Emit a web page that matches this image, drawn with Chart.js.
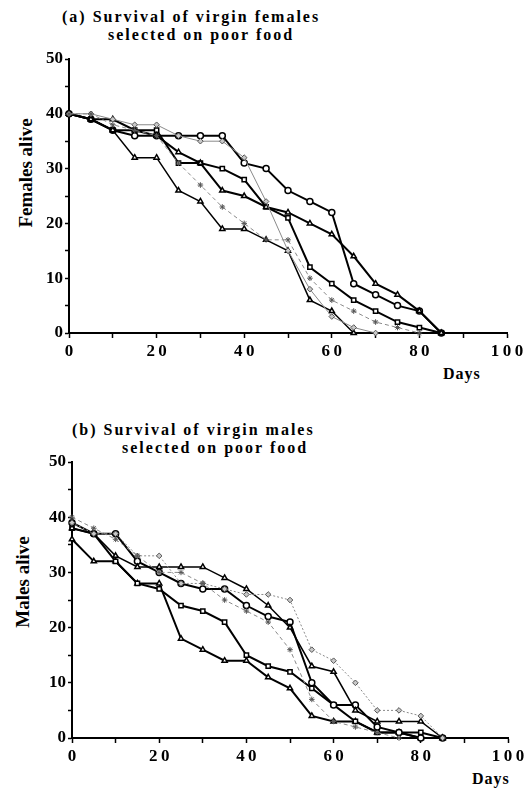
<!DOCTYPE html>
<html>
<head>
<meta charset="utf-8">
<script src="https://cdn.jsdelivr.net/npm/chart.js@4.4.0/dist/chart.umd.min.js"></script>
<style>
  body { margin: 0; background: #fff; width: 528px; height: 790px; position: relative; overflow: hidden; font-family: "Liberation Serif", "DejaVu Serif", serif; }
  canvas { position: absolute; left: 0; }
  .txt { position: absolute; font-weight: bold; white-space: nowrap; color: #000; }
  .ttl { font-size: 16px; line-height: 16px; letter-spacing: 2px; }
  .ylab { font-size: 19px; line-height: 19px; transform: translate(-50%, -50%) rotate(-90deg); }
  .days { font-size: 16px; line-height: 16px; letter-spacing: 1px; }
</style>
</head>
<body>
<div class="txt ttl" style="left:62px; top:9px;">(a) Survival of virgin females</div>
<div class="txt ttl" style="left:108px; top:27px;">selected on poor food</div>
<div class="txt ylab" style="left:25px; top:173px;">Females alive</div>
<div class="txt days" style="left:443px; top:366px;">Days</div>

<div class="txt ttl" style="left:72px; top:422px;">(b) Survival of virgin males</div>
<div class="txt ttl" style="left:122px; top:440px;">selected on poor food</div>
<div class="txt ylab" style="left:22px; top:582px;">Males alive</div>
<div class="txt days" style="left:472px; top:771px;">Days</div>

<canvas id="chartFemales" width="528" height="395" style="top:0px;"></canvas>
<canvas id="chartMales" width="528" height="395" style="top:395px;"></canvas>

<script>
// days since eclosion, counts
var days = [0, 5, 10, 15, 20, 25, 30, 35, 40, 45, 50, 55, 60, 65, 70, 75, 80, 85];

// (a) virgin females
var femCircle  = [40, 39, 37, 36, 36, 36, 36, 36, 31, 30, 26, 24, 22, 9, 7, 5, 4, 0];
var femSquare  = [40, 39, 37, 37, 37, 31, 31, 30, 28, 23, 21, 12, 9, 6, 4, 2, 1, 0];
var femTriUp   = [40, 39, 39, 37, 36, 33, 31, 26, 25, 23, 22, 20, 18, 14, 9, 7, 4, 0];
var femTriLow  = [40, 39, 37, 32, 32, 26, 24, 19, 19, 17, 15, 6, 4, 0, null, null, null, null];
var femDiamond = [40, 40, 39, 38, 38, 36, 35, 35, 32, 24, 15, 8, 3, 1, 0, null, null, null];
var femStar    = [40, 40, 38, 37, 36, 31, 27, 23, 20, 17, 17, 10, 6, 4, 2, 1, 0, null];

// (b) virgin males
var maleTriLow  = [36, 32, 32, 28, 28, 18, 16, 14, 14, 11, 9, 4, 3, 3, 1, 1, 0, 0];
var maleSquare  = [38, 37, 32, 28, 27, 24, 23, 21, 15, 13, 12, 9, 6, 3, 1, 1, 1, 0];
var maleTriUp   = [38, 37, 33, 31, 31, 31, 31, 29, 27, 24, 20, 13, 12, 5, 3, 3, 3, 0];
var maleDiamond = [39, 37, 37, 33, 33, 28, 28, 27, 26, 26, 25, 16, 14, 10, 5, 5, 4, 0];
var maleCircle  = [39, 37, 37, 32, 30, 28, 27, 27, 24, 22, 21, 10, 6, 6, 2, 1, 0, 0];
var maleStar    = [40, 38, 36, 33, 30, 30, 28, 25, 23, 21, 16, 7, 3, 2, 1, 0, null, null];

var yTicks = [0, 10, 20, 30, 40, 50];
var xTicks = [0, 20, 40, 60, 80, 100];

var serif = "'Liberation Serif', 'DejaVu Serif', serif";

function toPoints(values) {
  var pts = [];
  for (var i = 0; i < values.length; i++) {
    if (values[i] !== null) pts.push({ x: days[i], y: values[i] });
  }
  return pts;
}

function boldSet(values, shape, width) {
  return {
    data: toPoints(values),
    borderColor: "#000",
    borderWidth: width || 2,
    pointStyle: shape,
    pointRadius: 3,
    pointBackgroundColor: "#fff",
    pointBorderColor: "#000",
    pointBorderWidth: 1.5,
    tension: 0,
    clip: false,
  };
}

function lightSet(values, shape, dash) {
  return {
    data: toPoints(values),
    borderColor: "#8a8a8a",
    borderWidth: 1,
    borderDash: dash || [],
    pointStyle: shape,
    pointRadius: 2.8,
    pointBackgroundColor: "#c8c8c8",
    pointBorderColor: "#555",
    pointBorderWidth: 1,
    tension: 0,
    clip: false,
  };
}

function makeOptions(padTop, padRight, yWidth, xHeight) {
  return {
    responsive: false,
    animation: false,
    layout: { padding: { top: padTop, right: padRight, left: 0, bottom: 0 } },
    plugins: { legend: { display: false }, tooltip: { enabled: false } },
    scales: {
      x: {
        type: "linear",
        min: 0,
        max: 100,
        border: { color: "#000", width: 2 },
        grid: { drawOnChartArea: false, drawTicks: true, tickLength: 5, tickColor: "#000", tickWidth: 1.5 },
        ticks: {
          stepSize: 10,
          autoSkip: false,
          maxRotation: 0,
          padding: 3,
          color: "#000",
          font: { family: serif, size: 17, weight: "bold" },
          callback: function (v) {
            if (xTicks.indexOf(v) < 0) return "";
            return String(v).split("").join("\u2009");
          },
        },
        afterFit: function (s) { s.height = xHeight; },
      },
      y: {
        min: 0,
        max: 50,
        border: { color: "#000", width: 2 },
        grid: { drawOnChartArea: false, drawTicks: true, tickLength: 4, tickColor: "#000", tickWidth: 1.5 },
        ticks: {
          stepSize: 5,
          autoSkip: false,
          padding: 2,
          color: "#000",
          font: { family: serif, size: 17, weight: "bold" },
          callback: function (v) { return yTicks.indexOf(v) >= 0 ? v : ""; },
        },
        afterFit: function (s) { s.width = yWidth; },
      },
    },
  };
}

var ctxF = document.getElementById("chartFemales").getContext("2d");
new Chart(ctxF, {
  type: "line",
  data: {
    datasets: [
      lightSet(femStar, "star", [4, 3]),
      lightSet(femDiamond, "rectRot"),
      boldSet(femTriLow, "triangle", 1.5),
      boldSet(femTriUp, "triangle"),
      boldSet(femSquare, "rect"),
      boldSet(femCircle, "circle"),
    ],
  },
  options: makeOptions(59, 21, 69, 62),
});

var ctxM = document.getElementById("chartMales").getContext("2d");
new Chart(ctxM, {
  type: "line",
  data: {
    datasets: [
      lightSet(maleStar, "star", [4, 3]),
      lightSet(maleDiamond, "rectRot", [2, 2]),
      boldSet(maleTriUp, "triangle", 1.5),
      boldSet(maleCircle, "circle"),
      boldSet(maleSquare, "rect"),
      boldSet(maleTriLow, "triangle"),
    ],
  },
  options: makeOptions(67, 20, 72, 52),
});
</script>
</body>
</html>
